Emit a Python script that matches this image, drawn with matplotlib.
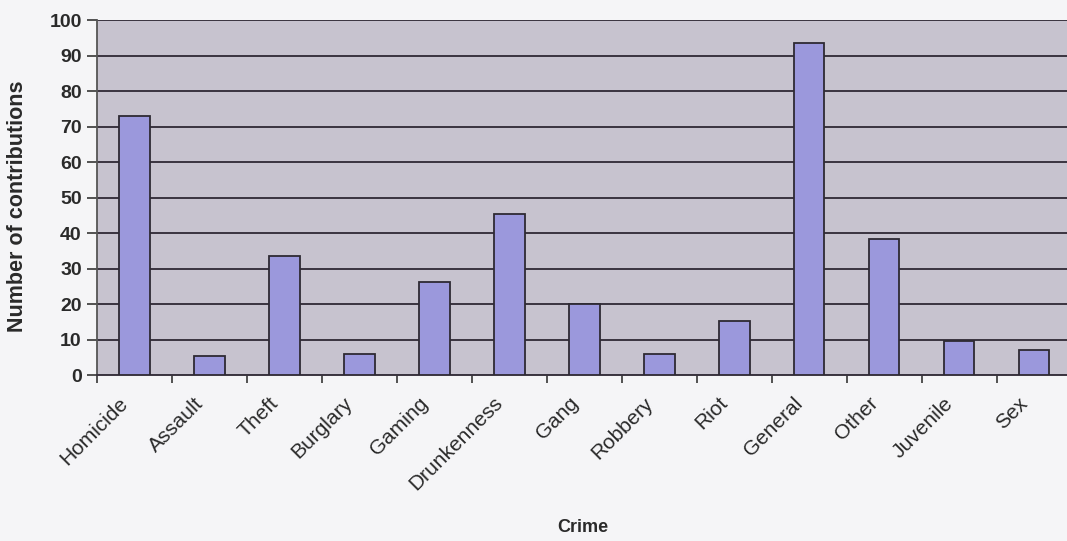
import numpy as np
import matplotlib.pyplot as plt
import matplotlib.transforms as mtransforms

# categories and counts
crimes = ['Homicide', 'Assault', 'Theft', 'Burglary', 'Gaming', 'Drunkenness', 'Gang',
          'Robbery', 'Riot', 'General', 'Other', 'Juvenile', 'Sex']
contributions = [73, 5.4, 33.7, 6.1, 26.2, 45.5, 20.1, 5.9, 15.3, 93.6, 38.4, 9.6, 7.3]
y_ticks = [0, 10, 20, 30, 40, 50, 60, 70, 80, 90, 100]

plt.rcParams['font.family'] = ['Liberation Sans', 'DejaVu Sans']

fig = plt.figure(figsize=(10.67, 5.41), dpi=100)
fig.patch.set_facecolor('#f5f5f7')

# plot area runs slightly past the right edge like in the scan
ax = fig.add_axes([0.0909, 0.306, 0.9133, 0.657])
ax.set_facecolor('#c7c3cf')

x = np.arange(len(crimes))
ax.bar(x, contributions, width=0.41, color='#9b98dc', edgecolor='#2e2a33', linewidth=1.3, zorder=3)

ax.set_xlim(-0.5, len(crimes) - 0.5)
ax.set_ylim(0, 100)
ax.set_yticks(y_ticks)
ax.set_yticklabels([str(v) for v in y_ticks], fontsize=14, fontweight='bold', color='#2a2a2a')
ax.yaxis.grid(True, color='#3a3440', linewidth=1.4, zorder=1)

ax.set_xticks(x)
ax.set_xticklabels(crimes, rotation=45, ha='right', rotation_mode='anchor', fontsize=15, color='#2a2a2a')
ax.tick_params(axis='x', length=0, pad=13)
# shift the rotated labels a bit to the left, the way the original sits
shift = mtransforms.ScaledTranslation(-0.16, 0, fig.dpi_scale_trans)
for lab in ax.get_xticklabels():
    lab.set_transform(lab.get_transform() + shift)
ax.set_xticks(np.arange(len(crimes) + 1) - 0.5, minor=True)
ax.tick_params(axis='x', which='minor', length=6, width=1.3, color='#444444')
ax.tick_params(axis='y', length=7, width=1.3, color='#444444', pad=4)

for side in ['top', 'right']:
    ax.spines[side].set_visible(False)
ax.spines['left'].set_color('#555555')
ax.spines['left'].set_linewidth(1.3)
ax.spines['bottom'].set_color('#3a3440')
ax.spines['bottom'].set_linewidth(1.4)

fig.text(0.016, 0.619, 'Number of contributions', rotation=90, ha='center', va='center',
         fontsize=15.5, fontweight='bold', color='#2a2a2a')
fig.text(0.546, 0.025, 'Crime', ha='center', va='center', fontsize=13, fontweight='bold', color='#2a2a2a')

plt.savefig('out.png', dpi=100, facecolor=fig.get_facecolor())
